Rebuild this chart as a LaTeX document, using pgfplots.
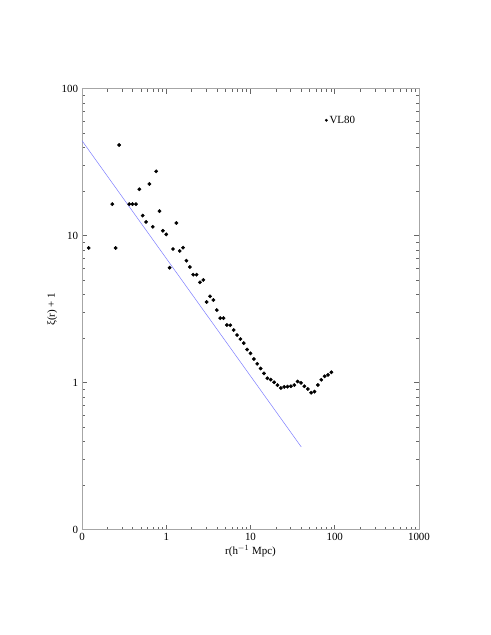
\documentclass[border=0pt]{standalone}
\usepackage{fontspec}
\setmainfont{Liberation Serif}
\usepackage{pgfplots}
\pgfplotsset{compat=1.18}
\definecolor{linblue}{RGB}{125,125,255}
\begin{document}
\fontsize{11}{13}\selectfont
\begin{tikzpicture}
\begin{axis}[
  scale only axis,
  width=337bp, height=441bp,
  xmode=log, ymode=log,
  xmin=0.1, xmax=1000, ymin=0.1, ymax=100,
  xtick={0.1,1,10,100,1000}, xticklabels={0,1,10,100,1000},
  ytick={0.1,1,10,100}, yticklabels={0,1,10,100},
  minor xtick={0.2,0.3,0.4,0.5,0.6,0.7,0.8,0.9,2,3,4,5,6,7,8,9,20,30,40,50,60,70,80,90,200,300,400,500,600,700,800,900},
  minor ytick={0.2,0.3,0.4,0.5,0.6,0.7,0.8,0.9,2,3,4,5,6,7,8,9,20,30,40,50,60,70,80,90},
  tick align=inside,
  major tick length=5bp, minor tick length=3bp,
  tick style={gray!80!black, line width=0.5pt},
  axis line style={gray!70, line width=0.9pt},
  xlabel={r(h$^{-1}$ Mpc)},
  ylabel={ξ(r) + 1},
  /pgf/number format/assume math mode=true,
  ticklabel style={font=\fontsize{11}{13}\selectfont},
  label style={font=\fontsize{11}{13}\selectfont},
  xlabel style={yshift=3bp},
  ylabel style={yshift=-3bp},
  legend style={draw=none, fill=none, at={(0.712,0.948)}, anchor=north west,
    font=\fontsize{11}{13}\selectfont},
  legend image code/.code={\draw[mark=*, mark size=1.2pt] plot coordinates {(0.15cm,0cm)};},
  legend cell align=left,
]
\addplot[only marks, mark=*, mark size=1.7pt, black] coordinates {
(0.12023,8.25) (0.22909,16.4) (0.25119,8.25) (0.27542,41.4)
(0.36308,16.4) (0.39811,16.4) (0.43652,16.4) (0.47863,20.7)
(0.52481,13.7) (0.57544,12.4) (0.63096,22.5) (0.69183,11.5)
(0.75858,27.4) (0.83176,14.7) (0.91201,10.8) (1.0,10.2)
(1.0965,6.06) (1.2023,8.12) (1.3183,12.2) (1.4454,7.87)
(1.5849,8.29) (1.7378,6.76) (1.9055,6.12) (2.0893,5.43)
(2.2909,5.43) (2.5119,4.82) (2.7542,5.0) (3.0200,3.54)
(3.3113,3.87) (3.6308,3.65) (3.9811,3.12) (4.3652,2.75)
(4.7863,2.75) (5.2481,2.47) (5.7544,2.46) (6.3096,2.28)
(6.9183,2.11) (7.5858,1.98) (8.3176,1.86) (9.1201,1.68)
(10.0,1.585) (10.965,1.45) (12.023,1.345) (13.183,1.25)
(14.454,1.156) (15.849,1.071) (17.378,1.05) (19.055,1.007)
(20.893,0.962) (22.909,0.920) (25.119,0.936) (27.542,0.94)
(30.200,0.946) (33.113,0.964) (36.308,1.019) (39.811,0.998)
(43.652,0.946) (47.863,0.906) (52.481,0.855) (57.544,0.869)
(63.096,0.964) (69.183,1.047) (75.858,1.105) (83.176,1.13)
(91.201,1.177)
};
\addlegendentry{VL80}
\addplot[linblue, line width=0.5pt, forget plot] coordinates {(0.1,44.3) (40,0.366)};
\end{axis}
\path ([shift={(-82bp,-105.3bp)}]current axis.south west) rectangle ([shift={(72bp,88.7bp)}]current axis.north east);
\end{tikzpicture}
\end{document}
